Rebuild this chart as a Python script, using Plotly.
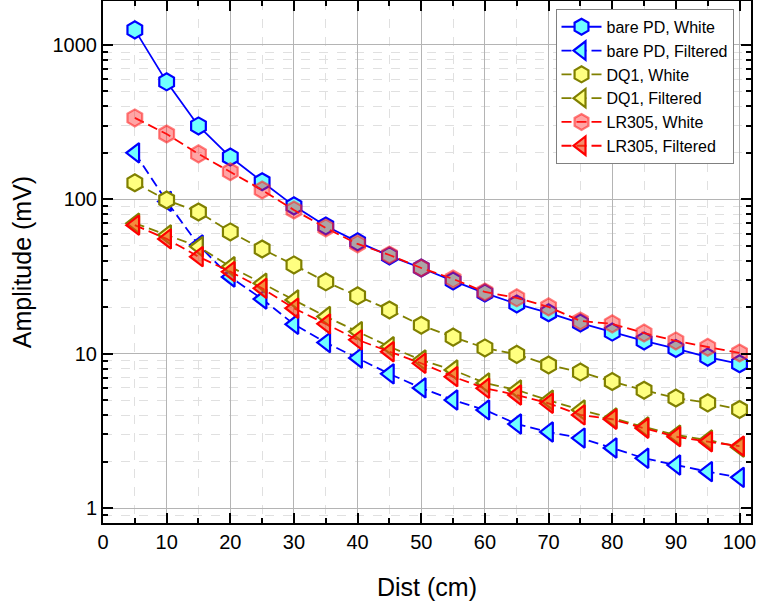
import plotly.graph_objects as go

dist = [5, 10, 15, 20, 25, 30, 35, 40, 45, 50, 55, 60, 65, 70, 75, 80, 85, 90, 95, 100]

bare_white = [1253, 577, 299, 188, 130, 90.7, 67.2, 53.0, 43.0, 35.9, 29.6, 24.7, 21.0, 18.4, 15.8, 13.8, 12.1, 10.8, 9.5, 8.6]
bare_filt = [200, 97, 50.6, 31.4, 22.6, 15.5, 11.8, 9.38, 7.4, 6.0, 5.01, 4.32, 3.50, 3.11, 2.84, 2.45, 2.1, 1.90, 1.72, 1.58]
dq1_white = [128, 99, 82.8, 61.5, 47.7, 37.6, 29.2, 23.7, 19.2, 15.3, 12.8, 10.9, 9.9, 8.45, 7.6, 6.6, 5.8, 5.16, 4.8, 4.35]
dq1_filt = [70, 58.8, 49.4, 36.6, 28.6, 22.3, 17.4, 13.9, 11.1, 9.1, 7.84, 6.46, 5.82, 5.0, 4.32, 3.83, 3.35, 2.97, 2.76, 2.48]
lr_white = [337, 265, 197, 151, 115, 85.3, 65.3, 51.4, 43.6, 35.9, 30.5, 25.1, 23.0, 20.1, 16.3, 15.6, 13.6, 12.1, 11.0, 10.1]
lr_filt = [68, 55.4, 42.5, 34.0, 26.5, 19.7, 15.6, 12.3, 10.3, 8.67, 7.1, 5.97, 5.4, 4.77, 4.01, 3.76, 3.29, 2.90, 2.69, 2.52]

names = ["bare PD, White", "bare PD, Filtered", "DQ1, White", "DQ1, Filtered",
         "LR305, White", "LR305, Filtered"]

styles = [
    dict(y=bare_white, sym="hexagon", line="#0000FF", dash="solid", fill="#70FFFF", edge="#0000FF"),
    dict(y=bare_filt, sym="triangle-left", line="#0000FF", dash="10px,5px", fill="#70FFFF", edge="#0000FF"),
    dict(y=dq1_white, sym="hexagon", line="#808000", dash="10px,5px", fill="#FFFF80", edge="#808000"),
    dict(y=dq1_filt, sym="triangle-left", line="#808000", dash="10px,5px", fill="#FFFF80", edge="#808000"),
    dict(y=lr_white, sym="hexagon", line="#FF0000", dash="10px,5px", fill="rgba(255,40,40,0.42)", edge="rgba(255,40,40,0.6)"),
    dict(y=lr_filt, sym="triangle-left", line="#FF0000", dash="10px,5px", fill="rgba(235,70,20,0.62)", edge="#FF0000"),
]

fig = go.Figure()
for name, s in zip(names, styles):
    fig.add_trace(go.Scatter(
        x=dist, y=s["y"], name=name, mode="lines+markers",
        line=dict(color=s["line"], width=1.8, dash=s["dash"]),
        marker=dict(symbol=s["sym"], size=17, color=s["fill"],
                    line=dict(color=s["edge"], width=2.2)),
    ))

FONT = "Liberation Sans, Arial, sans-serif"

axis_common = dict(
    showline=True, linecolor="black", linewidth=2, mirror="ticks",
    ticks="inside", ticklen=10, tickwidth=2, tickcolor="black",
    showgrid=True, gridcolor="#B4B4B4", gridwidth=1,
    zeroline=False, automargin=False,
    tickfont=dict(family=FONT, size=20, color="black"),
)

fig.update_xaxes(
    range=[0, 101.8], tickmode="linear", tick0=0, dtick=10,
    minor=dict(dtick=5, ticks="inside", ticklen=5, tickwidth=1.5, tickcolor="black",
               showgrid=True, gridcolor="#E0E0E0", griddash="dash", gridwidth=1),
    title=dict(text="Dist (cm)", font=dict(family=FONT, size=25, color="black"),
               standoff=26),
    **axis_common,
)
fig.update_yaxes(
    type="log", range=[-0.097, 3.285], dtick=1, exponentformat="none",
    minor=dict(dtick="D1", ticks="inside", ticklen=5, tickwidth=1.5, tickcolor="black",
               showgrid=True, gridcolor="#E0E0E0", griddash="dash", gridwidth=1),
    title=dict(text="Amplitude (mV)", font=dict(family=FONT, size=25, color="black"),
               standoff=14),
    **axis_common,
)

fig.update_layout(
    width=758, height=604,
    margin=dict(l=103, r=7, t=1, b=81, autoexpand=False),
    paper_bgcolor="white", plot_bgcolor="white",
    font=dict(family=FONT, color="black"),
    legend=dict(x=0.973, y=0.985, xanchor="right", yanchor="top",
                bgcolor="white", bordercolor="#808080", borderwidth=1,
                font=dict(size=16, color="black"), tracegroupgap=0,
                itemwidth=40),
    showlegend=True,
)

fig.write_html("out.html",
               config={"displayModeBar": False},
               post_script="document.body.style.margin='0';document.body.style.padding='0';")
